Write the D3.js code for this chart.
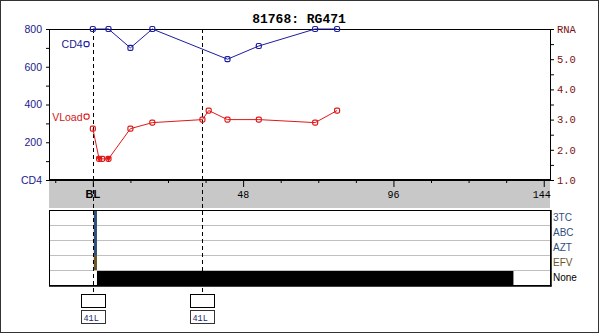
<!DOCTYPE html>
<html>
<head>
<meta charset="utf-8">
<script src="https://cdn.jsdelivr.net/npm/d3@7"></script>
<style>
  body { margin: 0; background: #fff; }
  svg text { font-family: "Liberation Sans", Arial, sans-serif; }
  .mono { font-family: "Liberation Mono", "Courier New", monospace !important; }
  .domain { display: none; }
</style>
</head>
<body>
<div id="chart"></div>
<script>
// chart data
var title = "81768: RG471";
var cd4Weeks = [-2, 0, 5, 12, 19, 43, 53, 71, 78];
var cd4Values = [720, 800, 800, 700, 800, 640, 710, 800, 800];
var vlWeeks = [-2, 0, 2, 3, 5, 12, 19, 35, 37, 43, 53, 71, 78];
var vlValues = [3.1, 2.7, 1.7, 1.7, 1.7, 2.7, 2.9, 3.0, 3.3, 3.0, 3.0, 2.9, 3.3];
var vlBelowLimit = [false, false, true, false, true, false, false, false, false, false, false, false, false];
var drugNames = ["3TC", "ABC", "AZT", "EFV", "None"];
var drugStart = [0, 0, 0, 0, 1];
var drugEnd = [1, 1, 1, 1, 134];
var drugColors = ["#2e4f7e", "#2e4f7e", "#2e4f7e", "#6b5426", "#000000"];
var genoWeeks = [0, 35];
var genoLabels = ["41L", "41L"];
var xLabelWeeks = [0, 48, 96, 144];
var xLabelText = ["BL", "48", "96", "144"];

// layout
var width = 600, height = 334;
var plot = { left: 49, right: 550, top: 29, bottom: 180 };
var band = { top: 180, bottom: 208 };
var drugPanel = { top: 210, rowH: 15 };

var svg = d3.select("#chart").append("svg")
  .attr("width", width)
  .attr("height", height);

// outer frame
svg.append("rect")
  .attr("x", 0.5).attr("y", 0.5)
  .attr("width", width - 2).attr("height", height - 2)
  .attr("fill", "#fff").attr("stroke", "#333");

// scales
var xScale = d3.scaleLinear().domain([-14, 146]).range([plot.left, plot.right]);
var yCD4 = d3.scaleLinear().domain([0, 800]).range([plot.bottom, plot.top]);
var yRNA = d3.scaleLinear().domain([1, 6]).range([plot.bottom, plot.top]);

// title
svg.append("text")
  .attr("class", "mono")
  .attr("x", 299).attr("y", 23)
  .attr("text-anchor", "middle")
  .attr("font-size", 13).attr("font-weight", "bold")
  .text(title);

// gray band under the plot
svg.append("rect")
  .attr("x", plot.left).attr("y", band.top)
  .attr("width", plot.right - plot.left).attr("height", band.bottom - band.top)
  .attr("fill", "#c8c8c8");

// plot frame
svg.append("line").attr("x1", plot.left).attr("x2", plot.right)
  .attr("y1", plot.top + 0.5).attr("y2", plot.top + 0.5).attr("stroke", "#000");
svg.append("line").attr("x1", plot.left + 0.5).attr("x2", plot.left + 0.5)
  .attr("y1", plot.top).attr("y2", plot.bottom).attr("stroke", "#000");
svg.append("line").attr("x1", plot.right + 0.5).attr("x2", plot.right + 0.5)
  .attr("y1", plot.top).attr("y2", plot.bottom).attr("stroke", "#000");
svg.append("line").attr("x1", plot.left).attr("x2", plot.right + 1)
  .attr("y1", plot.bottom).attr("y2", plot.bottom).attr("stroke", "#000").attr("stroke-width", 2);

// left axis (CD4)
var leftAxis = svg.append("g")
  .attr("transform", `translate(${plot.left},0)`)
  .call(d3.axisLeft(yCD4)
    .tickValues(d3.range(0, 801, 100))
    .tickSize(3).tickPadding(4)
    .tickFormat(d => d === 0 ? "CD4" : (d % 200 === 0 ? d : "")));
leftAxis.selectAll("text").attr("fill", "#1a1a8c").attr("font-size", 10.5)
  .style("font-family", "Liberation Sans, Arial, sans-serif");
leftAxis.selectAll("line").attr("stroke", "#000");

// right axis (RNA)
var rightAxis = svg.append("g")
  .attr("transform", `translate(${plot.right + 1},0)`)
  .call(d3.axisRight(yRNA)
    .tickValues(d3.range(1, 6.01, 0.5))
    .tickSize(3).tickPadding(3)
    .tickFormat(d => d === 6 ? "RNA" : (Number.isInteger(d) ? d.toFixed(1) : "")));
rightAxis.selectAll("text").attr("fill", "#7a1010").attr("font-size", 10.5)
  .attr("class", "mono");
rightAxis.selectAll("line").attr("stroke", "#000");

// bottom axis ticks in the gray band
var bottomAxis = svg.append("g")
  .attr("transform", `translate(0,${plot.bottom})`)
  .call(d3.axisBottom(xScale)
    .tickValues(d3.range(-12, 145, 12))
    .tickSize(3).tickFormat(""));
bottomAxis.selectAll("line").attr("stroke", "#000")
  .attr("y2", d => xLabelWeeks.indexOf(d) >= 0 ? 7 : 3);

svg.selectAll(".xlab")
  .data(xLabelWeeks)
  .enter().append("text")
  .attr("class", (d, i) => i === 0 ? "xlab" : "xlab mono")
  .attr("x", (d, i) => xScale(d) - (i === 3 ? 2 : 0))
  .attr("y", 198)
  .attr("text-anchor", "middle")
  .attr("font-size", (d, i) => i === 0 ? 11 : 10)
  .attr("font-weight", (d, i) => i === 0 ? "bold" : "normal")
  .attr("fill", "#000")
  .text((d, i) => xLabelText[i]);

// drug panel
var drugG = svg.append("g");
drugNames.forEach(function (name, i) {
  var y = drugPanel.top + i * drugPanel.rowH;
  if (i > 0) {
    drugG.append("line")
      .attr("x1", plot.left).attr("x2", plot.right)
      .attr("y1", y + 0.5).attr("y2", y + 0.5)
      .attr("stroke", "#c0c0c0");
  }
  drugG.append("rect")
    .attr("x", xScale(drugStart[i]) + 1)
    .attr("y", y + (i === drugNames.length - 1 ? 1 : 0))
    .attr("width", xScale(drugEnd[i]) - xScale(drugStart[i]))
    .attr("height", drugPanel.rowH)
    .attr("fill", drugColors[i]);
  drugG.append("text")
    .attr("x", plot.right + 3)
    .attr("y", y + 11)
    .attr("font-size", 10)
    .attr("fill", drugColors[i])
    .text(name);
});
var panelBottom = drugPanel.top + drugNames.length * drugPanel.rowH;
drugG.append("rect")
  .attr("x", plot.left + 0.5).attr("y", drugPanel.top + 0.5)
  .attr("width", plot.right - plot.left).attr("height", panelBottom - drugPanel.top)
  .attr("fill", "none").attr("stroke", "#000");
drugG.append("line").attr("x1", plot.left).attr("x2", plot.right + 1.5)
  .attr("y1", panelBottom + 1).attr("y2", panelBottom + 1).attr("stroke", "#000").attr("stroke-width", 1.5);
drugG.append("line").attr("x1", plot.right + 1).attr("x2", plot.right + 1)
  .attr("y1", drugPanel.top).attr("y2", panelBottom + 1.5).attr("stroke", "#000").attr("stroke-width", 1.5);

// genotype markers: dashed lines and boxes
genoWeeks.forEach(function (w, i) {
  var x = Math.round(xScale(w)) + 0.5;
  svg.append("line")
    .attr("x1", x).attr("x2", x)
    .attr("y1", plot.top).attr("y2", 294)
    .attr("stroke", "#000").attr("stroke-dasharray", "4,3");
  svg.append("rect")
    .attr("x", x - 12).attr("y", 294.5)
    .attr("width", 24).attr("height", 13)
    .attr("fill", "#fff").attr("stroke", "#000");
  svg.append("rect")
    .attr("x", x - 12).attr("y", 310.5)
    .attr("width", 24).attr("height", 13)
    .attr("fill", "#fff").attr("stroke", "#333");
  svg.append("text")
    .attr("class", "mono")
    .attr("x", x - 10).attr("y", 320.5)
    .attr("font-size", 8.5)
    .attr("fill", "#1a2a6c")
    .text(genoLabels[i]);
});

// CD4 series
var cd4Data = cd4Weeks.map((w, i) => ({ week: w, value: cd4Values[i] }));
var cd4Line = d3.line().x(d => xScale(d.week)).y(d => yCD4(d.value));
svg.append("path")
  .datum(cd4Data.slice(1))
  .attr("d", cd4Line)
  .attr("fill", "none").attr("stroke", "#1c1ca0").attr("stroke-width", 1);
svg.selectAll(".cd4pt")
  .data(cd4Data)
  .enter().append("rect")
  .attr("class", "cd4pt")
  .attr("x", d => xScale(d.week) - 2.5).attr("y", d => yCD4(d.value) - 2.5)
  .attr("width", 5).attr("height", 5).attr("rx", 1.5)
  .attr("fill", "none").attr("stroke", "#1c1ca0").attr("stroke-width", 1.2);
svg.append("text")
  .attr("x", xScale(cd4Weeks[0]) - 4).attr("y", yCD4(cd4Values[0]) + 4)
  .attr("text-anchor", "end").attr("font-size", 10.5).attr("fill", "#1a1a8c")
  .text("CD4");

// viral load series
var vlData = vlWeeks.map((w, i) => ({ week: w, value: vlValues[i], below: vlBelowLimit[i] }));
var vlLine = d3.line().x(d => xScale(d.week)).y(d => yRNA(d.value));
svg.append("path")
  .datum(vlData.slice(1))
  .attr("d", vlLine)
  .attr("fill", "none").attr("stroke", "#e01818").attr("stroke-width", 1);
svg.selectAll(".vlpt")
  .data(vlData)
  .enter().append("rect")
  .attr("class", "vlpt")
  .attr("x", d => xScale(d.week) - 2.5).attr("y", d => yRNA(d.value) - 2.5)
  .attr("width", 5).attr("height", 5).attr("rx", 1.5)
  .attr("fill", "none").attr("stroke", "#e01818").attr("stroke-width", 1.2);
svg.selectAll(".vltri")
  .data(vlData.filter(d => d.below))
  .enter().append("path")
  .attr("class", "vltri")
  .attr("d", d => {
    var x = xScale(d.week), y = yRNA(d.value);
    return `M${x - 3},${y - 2}L${x + 3},${y - 2}L${x},${y + 3}Z`;
  })
  .attr("fill", "#e01818");
svg.append("text")
  .attr("x", xScale(vlWeeks[0]) - 4).attr("y", yRNA(vlValues[0]) + 4)
  .attr("text-anchor", "end").attr("font-size", 10.5).attr("fill", "#d01818")
  .text("VLoad");
</script>
</body>
</html>
